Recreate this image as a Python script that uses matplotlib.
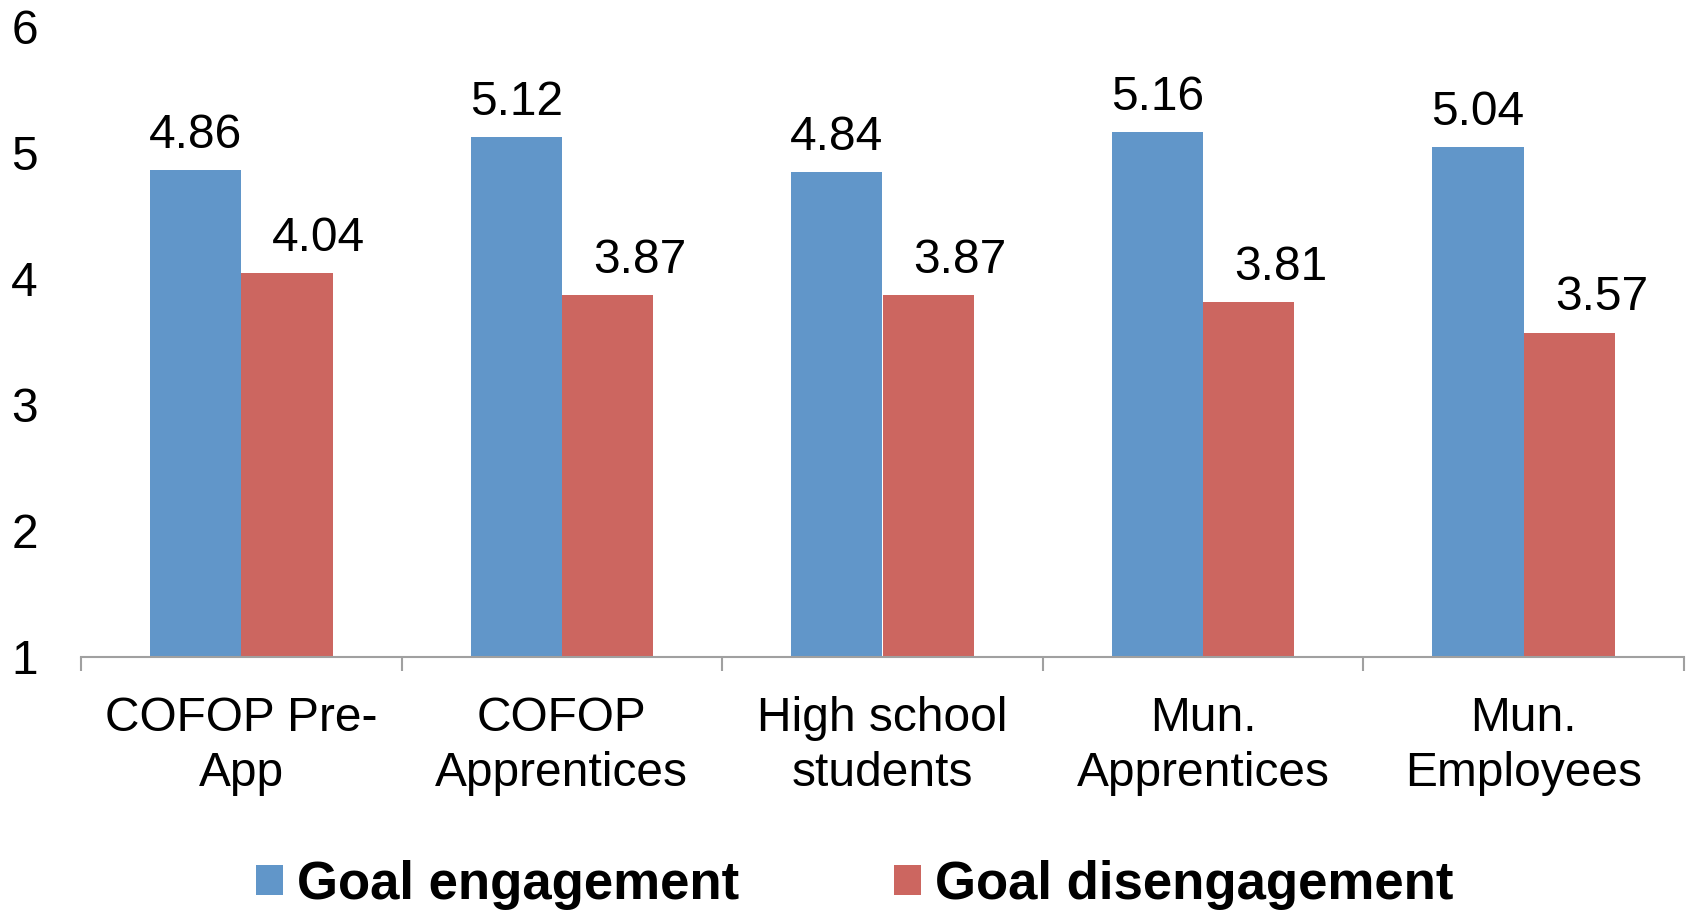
import matplotlib
matplotlib.use("Agg")
import matplotlib.pyplot as plt
import numpy as np

categories = ["COFOP Pre-\nApp", "COFOP\nApprentices", "High school\nstudents", "Mun.\nApprentices", "Mun.\nEmployees"]
engagement = [4.86, 5.12, 4.84, 5.16, 5.04]
disengagement = [4.04, 3.87, 3.87, 3.81, 3.57]
series_names = ["Goal engagement", "Goal disengagement"]
yticks = [1, 2, 3, 4, 5, 6]

BLUE = "#6196C9"
RED = "#CC6660"

plt.rcParams["font.family"] = ["Liberation Sans", "DejaVu Sans"]

DPI = 100
fig = plt.figure(figsize=(16.86, 9.11), dpi=DPI)
ax = fig.add_axes([81/1686, 254/911, (1684-81)/1686, (657-26)/911])

x = np.arange(len(categories))
w = 0.285
b1 = ax.bar(x - w/2, np.array(engagement) - 1, w, bottom=1, color=BLUE, label=series_names[0])
b2 = ax.bar(x + w/2, np.array(disengagement) - 1, w, bottom=1, color=RED, label=series_names[1])

for xi, v in zip(x - w/2, engagement):
    ax.annotate(f"{v:.2f}", (xi, v), xytext=(0, 16), textcoords="offset points",
                ha="center", va="baseline", fontsize=34.5)
for xi, v in zip(x + w/2, disengagement):
    ax.annotate(f"{v:.2f}", (xi, v), xytext=(23, 16), textcoords="offset points",
                ha="center", va="baseline", fontsize=34.5)

ax.set_xlim(-0.5, len(categories) - 0.5)
ax.set_ylim(1, 6)
ax.set_yticks(yticks)
ax.set_yticklabels([str(t) for t in yticks], fontsize=34.5)
ax.tick_params(axis="y", length=0, pad=31)
ax.set_xticks(x)
ax.set_xticklabels(categories, fontsize=34.5, linespacing=1.3)
ax.tick_params(axis="x", which="major", length=0, pad=28)
ax.set_xticks(np.arange(len(categories) + 1) - 0.5, minor=True)
ax.tick_params(axis="x", which="minor", length=10, width=1.5, color="#A0A0A0")

for s in ["top", "right", "left"]:
    ax.spines[s].set_visible(False)
ax.spines["bottom"].set_color("#A0A0A0")
ax.spines["bottom"].set_linewidth(1.5)

fs = 38
fpx = fs * DPI / 72
fig.legend(handles=[b1, b2], labels=series_names, loc="center",
           bbox_to_anchor=(0.507, 0.029), ncol=2, frameon=False,
           prop={"size": fs, "weight": "bold"},
           handlelength=27/fpx, handleheight=27/fpx, handletextpad=14/fpx,
           columnspacing=155/fpx, borderpad=0, borderaxespad=0)

fig.savefig("out.png", dpi=DPI)
